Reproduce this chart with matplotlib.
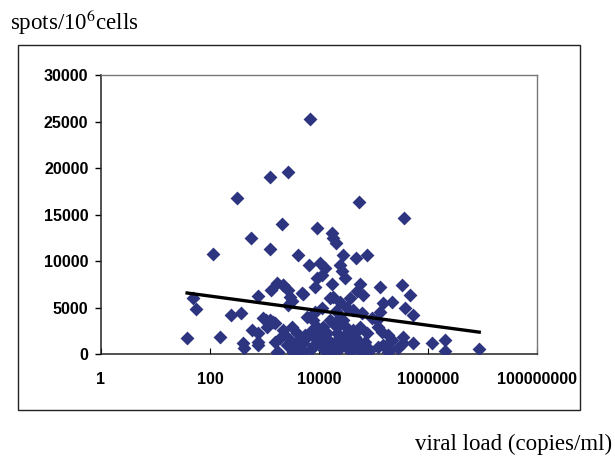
import matplotlib
matplotlib.use("Agg")
import matplotlib.pyplot as plt
import numpy as np
from matplotlib.patches import Rectangle

# viral load (copies/ml) and spots per 10^6 cells
viral_load = [
    38, 49, 55, 114, 150, 243, 370, 313, 404, 420,
    565, 590, 760, 760, 760, 1070, 1430, 1700, 1260, 1260,
    1320, 1700, 2090, 2190, 2690, 2690, 2950, 4090, 4900, 6800,
    6590, 9200, 10400, 12900, 11400, 9200, 8500, 17300, 18100, 20500,
    27500, 47500, 75500, 54000, 363000, 24300, 26300, 30000, 17300, 15900,
    56500, 50000, 64000, 131000, 333000, 467000, 5100, 149000, 218000, 380000,
    529000, 131000, 116000, 93800, 143000, 185000, 201000, 347000, 347000, 529000,
    1180000, 2050000, 2050000, 8700000, 121000, 201000, 86500, 18100, 24300, 32500,
    42000, 61500, 37000, 11400, 8500, 940, 1260, 1550, 1120, 760,
    2190, 3180, 3900, 2690, 1910, 1550, 2580, 3900, 5100, 5500,
    7400, 11800, 15900, 21400, 27500, 32500, 42000, 56500, 75500, 69500,
    42000, 27500, 21400, 15900, 11800, 9200, 7400, 5100, 3300, 1780,
    32500, 50000, 17300, 6000, 7800, 9200, 18100, 21400, 30000, 45700,
    56500, 42000, 19600, 64000, 121000, 218000, 149000, 185000, 282000, 2190,
    3180, 2690, 20500, 24300, 4500, 6300, 8000, 10200, 13500, 16500,
    25000, 35000, 48000, 4200, 7000, 12500, 23000, 38000, 60000, 14000,
]
spots = [
    1720, 6020, 4840, 10750, 1830, 4190, 4410, 16770, 1180, 650,
    12470, 2580, 2260, 970, 6230, 3650, 3440, 215, 19030, 11290,
    6880, 7630, 13980, 7420, 19570, 6880, 6130, 10640, 6560, 25260,
    9570, 13550, 9780, 9250, 8490, 8170, 7200, 13010, 12470, 11930,
    10640, 10320, 10640, 16340, 14620, 9570, 8920, 8170, 7520, 6020,
    7520, 6770, 6340, 7200, 7420, 6340, 6450, 5480, 5590, 4950,
    4190, 4520, 3650, 3870, 2370, 2040, 1290, 1830, 1180, 1180,
    1180, 1500, 320, 540, 750, 430, 430, 6130, 5590, 4950,
    4730, 4410, 6020, 4950, 4520, 3870, 3650, 3330, 2900, 1290,
    2580, 2900, 2260, 1720, 1720, 1290, 970, 1290, 1180, 2040,
    2580, 2900, 3650, 2900, 3650, 2800, 2580, 2900, 2260, 1290,
    1720, 1720, 1500, 1290, 750, 1500, 650, 215, 215, 215,
    650, 650, 215, 3980, 3650, 2900, 3330, 2260, 2040, 1830,
    1180, 750, 650, 215, 2900, 1500, 970, 215, 650, 7420,
    5700, 5300, 4600, 3900, 1600, 1900, 1000, 2200, 1700, 1000,
    1100, 1300, 2400, 600, 500, 400, 500, 300, 800, 2300,
]

# logarithmic trendline: y = a + b*log10(x)
trend_intercept = 7800
trend_slope = -785

x_ticks = [1, 100, 10000, 1000000, 100000000]
y_ticks = [0, 5000, 10000, 15000, 20000, 25000, 30000]

fig = plt.figure(figsize=(6.15, 4.63), dpi=100)
fig.patch.set_facecolor("white")

# outer chart-area frame
fig.patches.append(Rectangle((0.029, 0.1145), 0.914, 0.788, transform=fig.transFigure,
                             fill=False, edgecolor="#222222", linewidth=1.0))

ax = fig.add_axes([0.1642, 0.2354, 0.709, 0.6026])
ax.scatter(viral_load, spots, marker="D", s=50, color="#2d3580", linewidths=0, zorder=3)

xs = np.array([min(viral_load), max(viral_load)])
ax.plot(xs, trend_intercept + trend_slope * np.log10(xs), color="black", linewidth=2.4, zorder=4)

ax.set_xscale("log")
ax.set_xlim(1, 1e8)
ax.set_ylim(0, 30000)
ax.set_xticks(x_ticks)
ax.set_xticklabels([str(t) for t in x_ticks])
ax.xaxis.set_minor_locator(matplotlib.ticker.NullLocator())
ax.set_yticks(y_ticks)
ax.set_yticklabels([str(t) for t in y_ticks])

for lbl in ax.get_xticklabels() + ax.get_yticklabels():
    lbl.set_fontfamily("Liberation Sans")
    lbl.set_fontweight("bold")
    lbl.set_fontsize(11.5)

ax.tick_params(axis="y", direction="out", length=4, width=1, pad=5)
ax.tick_params(axis="x", direction="in", length=4, width=0.8, pad=13)

for side in ["left", "bottom"]:
    ax.spines[side].set_color("#222222")
    ax.spines[side].set_linewidth(1.1)
for side in ["top", "right"]:
    ax.spines[side].set_color("#777777")
    ax.spines[side].set_linewidth(1.0)

fig.text(0.016, 0.935, r"spots/10$^{6}$cells", fontsize=16.5, family="Liberation Serif",
         ha="left", va="baseline", math_fontfamily="stix")
fig.text(0.995, 0.028, "viral load (copies/ml)", fontsize=16.5, family="Liberation Serif",
         ha="right", va="baseline")

fig.savefig("out.png", dpi=100)
